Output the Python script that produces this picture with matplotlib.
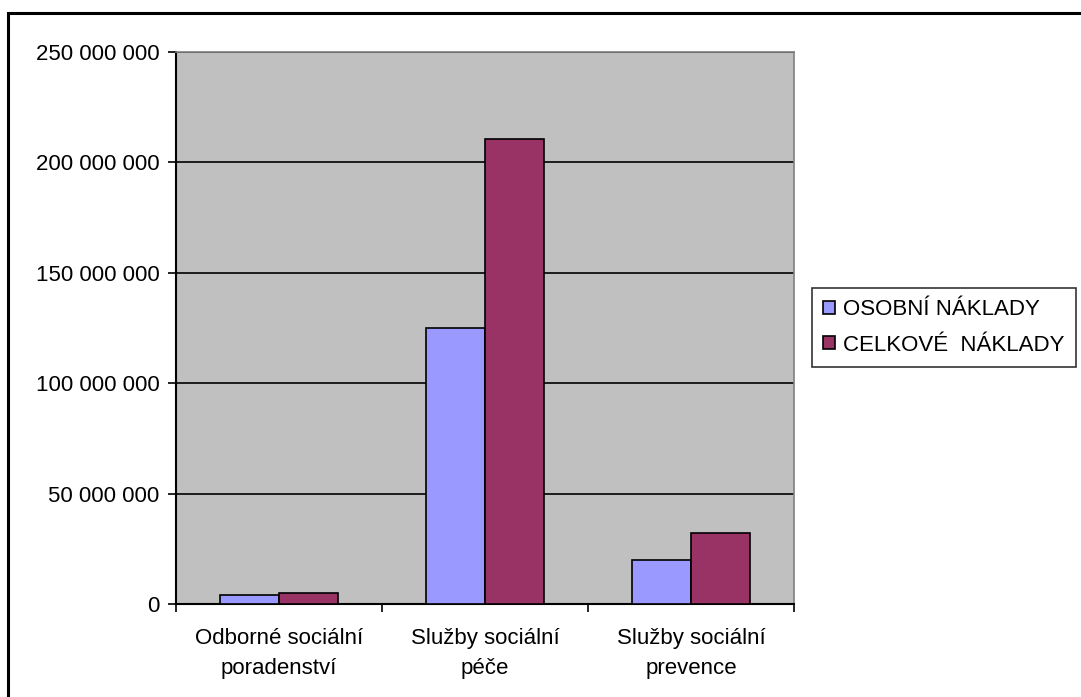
import numpy as np
import matplotlib.pyplot as plt
from matplotlib.patches import Rectangle

plt.rcParams['font.family'] = ['Liberation Sans', 'DejaVu Sans']

categories = ['Odborné sociální\nporadenství', 'Služby sociální\npéče', 'Služby sociální\nprevence']
osobni = [4.1e6, 125.2e6, 20.0e6]
celkove = [4.8e6, 210.8e6, 32.3e6]
series_names = ['OSOBNÍ NÁKLADY', 'CELKOVÉ  NÁKLADY']
yticks = [0, 50e6, 100e6, 150e6, 200e6, 250e6]

W, H = 1081, 697
fig = plt.figure(figsize=(W / 100, H / 100), dpi=100)
ax = fig.add_axes([176 / W, 1 - 604 / H, (794 - 176) / W, (604 - 52) / H])
ax.set_facecolor('#C0C0C0')

x = np.arange(len(categories))
bw = 0.285
b1 = ax.bar(x - bw / 2, osobni, bw, color='#9999FF', edgecolor='black', linewidth=1.2, zorder=3)
b2 = ax.bar(x + bw / 2, celkove, bw, color='#993366', edgecolor='black', linewidth=1.2, zorder=3)

ax.set_xlim(-0.5, 2.5)
ax.set_ylim(0, 250e6)
ax.set_yticks(yticks)
ax.set_yticklabels(['{:,.0f}'.format(v).replace(',', ' ') for v in yticks], fontsize=16)
ax.yaxis.grid(True, color='black', linewidth=1.2, zorder=1)
ax.set_axisbelow(True)

ax.set_xticks(x)
ax.set_xticklabels(categories, fontsize=16, linespacing=1.6)
ax.tick_params(axis='x', length=0, pad=17)
ax.set_xticks([-0.5, 0.5, 1.5, 2.5], minor=True)
ax.tick_params(axis='x', which='minor', length=6, width=1.2, direction='out')
ax.tick_params(axis='y', length=6, width=1.2, direction='out', pad=6)

for side in ['top', 'right']:
    ax.spines[side].set_color('#808080')
    ax.spines[side].set_linewidth(1.2)
for side in ['left', 'bottom']:
    ax.spines[side].set_linewidth(1.5)

leg = ax.legend([b1, b2], series_names, loc='upper left',
                bbox_to_anchor=(812 / W, 1 - 288 / H), bbox_transform=fig.transFigure,
                fontsize=16, frameon=True, fancybox=False, edgecolor='black',
                handlelength=0.55, handleheight=0.55, handletextpad=0.35,
                borderpad=0.5, labelspacing=0.65, borderaxespad=0)
leg.get_frame().set_linewidth(1.2)

# outer frame around the whole chart
fig.add_artist(Rectangle((8 / W, -0.05), 1.1, 1 - 13 / H + 0.05, transform=fig.transFigure,
                         fill=False, edgecolor='black', linewidth=2.2, clip_on=False))

fig.savefig('out.png', dpi=100, facecolor='white')
